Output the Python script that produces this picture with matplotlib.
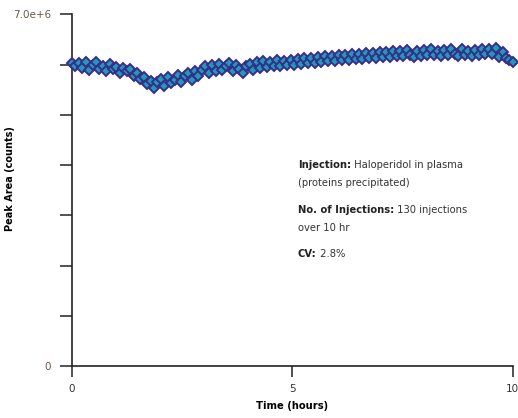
import matplotlib
matplotlib.use("Agg")
import matplotlib.pyplot as plt
import numpy as np

# peak area (millions of counts) for 130 injections over 10 hours
peak_area_m = [
    6.04, 5.98, 6.03, 5.93, 6.05, 5.90, 5.99, 6.06, 5.91, 5.97, 5.87, 6.01, 5.92,
    5.96, 5.83, 5.94, 5.87, 5.91, 5.78, 5.84, 5.71, 5.76, 5.62, 5.68, 5.53, 5.66,
    5.72, 5.57, 5.75, 5.63, 5.70, 5.79, 5.65, 5.77, 5.84, 5.69, 5.87, 5.78, 5.90,
    5.97, 5.84, 6.00, 5.88, 6.01, 5.89, 5.97, 6.03, 5.87, 5.99, 5.92, 5.84, 5.98,
    6.01, 5.89, 6.05, 5.93, 6.08, 5.96, 6.06, 5.98, 6.09, 5.97, 6.07, 6.00, 6.10,
    6.00, 6.11, 6.02, 6.13, 6.04, 6.14, 6.04, 6.15, 6.06, 6.17, 6.07, 6.18, 6.08,
    6.19, 6.09, 6.20, 6.10, 6.22, 6.12, 6.21, 6.11, 6.23, 6.13, 6.24, 6.14, 6.25,
    6.15, 6.26, 6.16, 6.28, 6.17, 6.27, 6.18, 6.29, 6.19, 6.15, 6.28, 6.18, 6.30,
    6.19, 6.31, 6.20, 6.28, 6.17, 6.30, 6.20, 6.32, 6.21, 6.18, 6.31, 6.20, 6.28,
    6.17, 6.30, 6.19, 6.31, 6.21, 6.32, 6.22, 6.33, 6.15, 6.26, 6.13, 6.10, 6.05,
]
n_inj = len(peak_area_m)
hours = np.linspace(0, 10, n_inj)
counts = np.array(peak_area_m) * 1e6

y_ticks = [0, 1e6, 2e6, 3e6, 4e6, 5e6, 6e6, 7e6]
y_ticklabels = ["0", "", "", "", "", "", "", "7.0e+6"]
x_ticks = [0, 5, 10]

notes = [
    ("Injection:", " Haloperidol in plasma"),
    ("", "(proteins precipitated)"),
    ("No. of Injections:", " 130 injections"),
    ("", "over 10 hr"),
    ("CV:", " 2.8%"),
]
note_y = [165, 183, 210, 228, 254]  # pixel rows from top

fig = plt.figure(figsize=(5.18, 4.18), dpi=100)
ax = fig.add_axes([0.139, 0.1244, 0.851, 0.841])

ax.plot(hours, counts, linestyle="none", marker="D", markersize=5.5,
        markerfacecolor="#1d9db4", markeredgecolor="#3b2b8e", markeredgewidth=1.4,
        clip_on=False, zorder=3)

ax.set_xlim(0, 10)
ax.set_ylim(0, 7e6)
ax.set_yticks(y_ticks)
ax.set_yticklabels(y_ticklabels)
ax.set_xticks(x_ticks)
ax.set_xticklabels([str(t) for t in x_ticks])

for side in ["top", "right"]:
    ax.spines[side].set_visible(False)
for side in ["left", "bottom"]:
    ax.spines[side].set_linewidth(1.2)
    ax.spines[side].set_color("#222222")

ax.tick_params(axis="y", direction="out", length=9, width=1.1, color="#222222",
               labelsize=7.5, labelcolor="#6b5a48", pad=6)
ax.tick_params(axis="x", direction="out", length=8, width=1.1, color="#222222",
               labelsize=7.5, labelcolor="#333333", pad=5)

ax.set_xlabel("Time (hours)", fontsize=7.2, fontweight="bold")
ax.set_ylabel("Peak Area (counts)", fontsize=7.0, fontweight="bold")
ax.xaxis.set_label_coords(0.5, -0.10)
ax.yaxis.set_label_coords(-0.129, 0.534)

# annotation block, bold label followed by normal text
fig.canvas.draw()
renderer = fig.canvas.get_renderer()
W, H = 518, 418
x0 = 298
for (bold, rest), py in zip(notes, note_y):
    fy = 1 - py / H
    x = x0 / W
    if bold:
        t = fig.text(x, fy, bold, fontsize=7.2, fontweight="bold", color="#222222", va="center")
        bb = t.get_window_extent(renderer)
        x = bb.x1 / W
    fig.text(x, fy, rest, fontsize=7.2, color="#333333", va="center")

fig.savefig("out.png", dpi=100)
